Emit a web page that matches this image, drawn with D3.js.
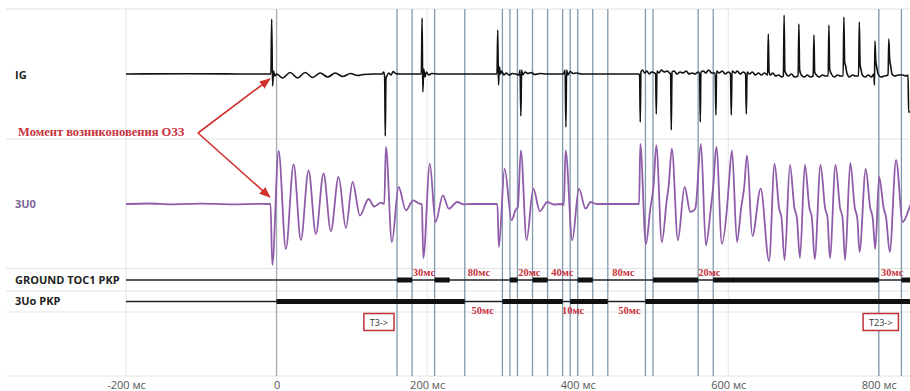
<!DOCTYPE html>
<html>
<head>
<meta charset="utf-8">
<script src="https://cdn.jsdelivr.net/npm/d3@7"></script>
<style>
  body { margin: 0; background: #fff; }
  .sep { stroke: #e2e2e2; stroke-width: 1; }
  .grid { stroke: #e6e6e6; stroke-width: 1; }
  .event { stroke: #8299ad; stroke-width: 1.3; }
  .zero { stroke: #a3acb5; stroke-width: 1.3; }
  .chan { font-family: "Open Sans", sans-serif; font-weight: bold; font-size: 11px; fill: #222; }
  .gap { font-family: "Liberation Serif", serif; font-weight: bold; font-size: 10.5px; fill: #c8323c; }
  .axis text { font-family: "Open Sans", sans-serif; font-size: 11px; fill: #555; }
</style>
</head>
<body>
<div id="chart"></div>
<script>
// time axis, ms
const timeTicks = [-200, 0, 200, 400, 600, 800];
const gridTimes = [-200, 200, 400, 600, 800];

// vertical cursor lines, ms
const eventTimes = [160, 180, 210, 250, 300, 310, 320, 340, 360, 380, 390, 400, 420, 440, 490, 500, 560, 580, 800, 830];

// discrete signals: intervals where the signal is set, ms
const groundPickup = [[160, 180], [210, 230], [310, 320], [340, 360], [400, 420], [500, 560], [580, 800], [830, 846]];
const u0Pickup = [[0, 250], [300, 380], [390, 440], [490, 846]];

// pause labels
const groundGapText = ["30мс", "80мс", "20мс", "40мс", "80мс", "20мс", "30мс"];
const groundGapAt = [181, 254, 321, 365, 446, 560, 803];
const u0GapText = ["50мс", "10мс", "50мс"];
const u0GapAt = [259, 379, 454];

// marker boxes
const markerText = ["T3->", "T23->"];
const markerAt = [160, 830];

// IG trace [ms, value]
const igTrace = [
  [-200, 0], [-120, 0.3], [-40, 0], [-7.5, 0],
  [-6.5, 55], [-5.3, -12], [-4, 3], [-2.5, -2], [0, 0],
  [8, -4], [18, 1.5], [28, -4], [38, 1.5], [48, -3.5], [58, 1], [68, -3], [78, 1], [88, -2.5], [98, 0.5], [108, -1.5], [115, -0.5], [130, 0],
  [140, 0], [142.5, 2], [143.6, -4], [144.4, -62], [145.3, -5], [146.5, -2], [149, 1], [152, -1], [155, 2.5], [158, 0.5], [163, 0], [190, 0],
  [192.3, 0], [193.3, 56], [194.3, -18], [195.5, 5], [197, -3], [199, 2], [202, -1], [206, 0.5], [215, 0], [290, 0],
  [292.8, 0], [293.8, 44], [294.8, -11], [296, 7], [297.5, 0], [299, 3], [302, -1], [305, 1], [309, -1], [313, 0.5], [318, 0],
  [322, -1], [323.5, 4], [324.5, -42], [325.5, 4], [327, -1], [330, 2], [334, 0.5], [338, 1.5], [343, -0.5], [350, 0.5], [360, 0],
  [381, 0], [383.3, 4], [384.3, -53], [385.3, 4], [387, -1], [390, 2.5], [394, 0.5], [398, 1], [405, 0], [480, 0],
  [481.5, 0], [482.3, -2], [483.1, -48], [484, 2], [486, 4], [489, 1], [492, 3], [495, 0], [498, 2], [502, 1],
  [503.5, 0], [504.4, -40], [505.3, 3], [508, 1], [511, 4], [515, 2], [519, 3], [522, 1],
  [523.4, 0], [524.3, -56], [525.3, 2], [528, 3], [532, 0], [536, 2], [540, 1], [544, 3], [548, 0], [552, 1], [556, 0], [560, 2],
  [562, 0], [562.8, -48], [563.7, 2], [567, 3], [570, 1], [574, 4], [578, 1],
  [582.6, 1], [583.6, -41], [584.5, 3], [588, 1], [592, 3], [596, 0], [600, 2],
  [603, 0], [604, -41], [605, 3], [609, 1], [612, 3], [616, 0], [620, 2],
  [623, 0], [624, -40], [625, 2], [628, 0], [632, 2], [636, -1], [640, 1], [644, -1], [648, 1], [652.2, -1],
  [653.2, 40], [654.2, 2], [656, -1], [659, 1], [663, -2], [667, -1], [671, -3], [673.2, -2],
  [674.2, 59], [675.2, 3], [677, 0], [680, -2], [684, 0], [688, -3], [692.8, -2],
  [693.8, 50], [694.8, 4], [697, -1], [701, -3], [705, -1], [709, -3], [712.8, -2],
  [713.8, 39], [714.8, 2], [717, -1], [721, -3], [725, -1], [729, -2], [732.7, -2],
  [733.7, 49], [734.7, 5], [737, 0], [741, -3], [745, -1], [749, -2], [752.6, -2],
  [753.6, 57], [754.6, 12], [756, 8], [757.5, 1], [761, -3], [765, -1], [769, -2], [773.1, -2],
  [774.1, 52], [775.1, 10], [776.5, 4], [778, -1], [782, -3], [786, -1], [790, -3], [793.5, 0],
  [794.2, -11], [794.9, 33], [795.9, 14], [797.5, 6], [799, 0], [803, -3], [807, -2], [812.3, -1],
  [813.3, 35], [814.3, 16], [815.8, 8], [817.5, 0], [821, -2], [826, -1], [832, -1], [836, -2], [838.8, -1],
  [839.6, -38], [846, -38]
];

// 3U0 trace [ms, value]
const u0Trace = [
  [-200, 0], [-170, 0.5], [-140, -0.3], [-100, 0.4], [-60, -0.3], [-20, 0.2], [-8, 0],
  [-5.7, -61], [2.7, 53], [12.4, -45], [22.6, 39.5], [32.3, -36], [42.5, 33.5], [52.2, -30], [62.4, 30.5],
  [72.1, -27], [82.4, 27], [92.1, -24], [101, 22], [110.7, -11.5], [122.2, 5], [129.8, -2.5], [138.6, 1.3], [143.1, 0],
  [145.2, 57], [153.2, -38], [162.1, 17], [171.8, -6.3], [181.6, 3.7], [189.6, 0.3], [193, 0],
  [194.9, -54], [203.6, 40.3], [211.2, -18], [220.9, 8.7], [228.9, -4.7], [240, 2], [248.4, -0.3], [260, 0], [293.3, 0],
  [295.3, -43], [302.9, 35.3], [312.2, -16.3], [317.5, -6], [320.5, -3], [324.5, 53.7], [332.1, -36.3], [341, 15.3],
  [349.8, -7.3], [359.6, 2], [368, -0.5], [379.5, 0], [381.6, -1], [383.9, 53.7], [392.8, -36.3], [401.6, 15.3],
  [410.5, -4.7], [417.1, 2], [425, 0], [481.6, 0],
  [483.1, 60], [490.6, -40], [496.4, -5], [500.8, 18.7], [504.4, 58.7], [511.8, -38], [518.5, 5.3], [520.7, 17],
  [525.1, 55.3], [533.1, -36.3], [542, 17], [549.6, -8], [556.2, -4.7], [563.7, 60], [570.3, -41.3], [576.6, -6],
  [579.9, 17], [584.2, 57], [591.6, -39.7], [598.3, -4], [600.5, 17], [604.9, 53.7], [611.6, -38], [617.1, -4],
  [621.2, 17], [624.9, 48.7], [632, -32], [643.1, 15.3], [654.2, -57],
  [661.5, 40], [667.5, -4], [670.8, -14], [674.8, -56],
  [681.9, 39], [687.9, -4], [691.2, -14], [695.2, -54],
  [701.8, 39], [707.8, -4], [711.1, -14], [714.8, -55],
  [722.6, 39], [728.6, -4], [731.9, -14], [735.0, -54],
  [742.5, 39], [748.5, -4], [751.8, -14], [755.2, -56],
  [762.1, 41], [768.1, -4], [771.4, -14], [774.4, -48],
  [782.6, 35], [788.6, -4], [791.9, -14], [795.3, -45],
  [800.4, 27], [806.4, -4], [809.7, -14], [814.5, -48],
  [822.9, 44], [831.8, -18], [842.1, -1], [846, 5]
];

const width = 910, height = 391;

const svg = d3.select("#chart").append("svg")
  .attr("width", width)
  .attr("height", height);

const x = d3.scaleLinear().domain([-200, 845]).range([126, 912.7]);
const yIG = d3.scaleLinear().domain([-65, 65]).range([139, 9]);
const yU0 = d3.scaleLinear().domain([-65, 65]).range([269, 139]);

// row separators
const rowLines = [9, 139, 268.5, 291, 312, 376];
svg.selectAll(".sep").data(rowLines).enter().append("line")
  .attr("class", "sep")
  .attr("x1", 6).attr("x2", width)
  .attr("y1", d => d).attr("y2", d => d);

// grid
svg.selectAll(".grid").data(gridTimes).enter().append("line")
  .attr("class", "grid")
  .attr("x1", d => x(d)).attr("x2", d => x(d))
  .attr("y1", 9).attr("y2", 376);

svg.append("line").attr("class", "zero")
  .attr("x1", x(0)).attr("x2", x(0)).attr("y1", 9).attr("y2", 376);

svg.selectAll(".event").data(eventTimes).enter().append("line")
  .attr("class", "event")
  .attr("x1", d => x(d)).attr("x2", d => x(d))
  .attr("y1", 9).attr("y2", 376);

// x axis
const xAxis = d3.axisBottom(x)
  .tickValues(timeTicks)
  .tickSize(0)
  .tickPadding(5)
  .tickFormat(d => d === 0 ? "0" : d + " мс");

svg.append("g")
  .attr("class", "axis")
  .attr("transform", "translate(0,376)")
  .call(xAxis)
  .call(g => g.select(".domain").remove());

// analog traces
const lineIG = d3.line().curve(d3.curveMonotoneX).x(d => x(d[0])).y(d => yIG(d[1]));
const lineU0 = d3.line().curve(d3.curveMonotoneX).x(d => x(d[0])).y(d => yU0(d[1]));

svg.append("path")
  .datum(u0Trace)
  .attr("fill", "none")
  .attr("stroke", "#8f5ca9")
  .attr("stroke-width", 1.8)
  .attr("stroke-linejoin", "round")
  .attr("d", lineU0);

svg.append("path")
  .datum(igTrace)
  .attr("fill", "none")
  .attr("stroke", "#111")
  .attr("stroke-width", 1.6)
  .attr("stroke-linejoin", "round")
  .attr("d", lineIG);

// discrete traces
function drawDigital(yPos, spans) {
  svg.append("line")
    .attr("x1", x(-200)).attr("x2", width)
    .attr("y1", yPos).attr("y2", yPos)
    .attr("stroke", "#222").attr("stroke-width", 1.5);
  svg.selectAll(null).data(spans).enter().append("line")
    .attr("x1", d => x(d[0])).attr("x2", d => x(d[1]))
    .attr("y1", yPos).attr("y2", yPos)
    .attr("stroke", "#111").attr("stroke-width", 5);
}
drawDigital(280, groundPickup);
drawDigital(301.5, u0Pickup);

svg.selectAll(null).data(groundGapText).enter().append("text")
  .attr("class", "gap")
  .attr("x", (d, i) => x(groundGapAt[i]))
  .attr("y", 276)
  .text(d => d);

svg.selectAll(null).data(u0GapText).enter().append("text")
  .attr("class", "gap")
  .attr("x", (d, i) => x(u0GapAt[i]))
  .attr("y", 313.5)
  .text(d => d);

// marker boxes
markerText.forEach((m, i) => {
  const g = svg.append("g");
  const t = g.append("text")
    .attr("font-family", "Open Sans, sans-serif")
    .attr("font-size", 9)
    .attr("fill", "#333")
    .attr("text-anchor", "middle")
    .attr("y", 325.5)
    .text(m);
  const w = t.node().getComputedTextLength() + 12;
  const right = x(markerAt[i]) - 3;
  t.attr("x", right - w / 2);
  g.insert("rect", "text")
    .attr("x", right - w).attr("y", 313.5)
    .attr("width", w).attr("height", 17)
    .attr("fill", "#fff")
    .attr("stroke", "#c0333b")
    .attr("stroke-width", 1.5);
});

// channel names
const chanNames = [["IG", 79, "#222"], ["3U0", 208, "#7b6796"], ["GROUND TOC1 PKP", 283.5, "#222"], ["3Uo PKP", 305, "#222"]];
svg.selectAll(".chan").data(chanNames).enter().append("text")
  .attr("class", "chan")
  .attr("x", 15)
  .attr("y", d => d[1])
  .style("fill", d => d[2])
  .text(d => d[0]);

// annotation
svg.append("defs").append("marker")
  .attr("id", "arr")
  .attr("viewBox", "0 0 10 10")
  .attr("refX", 9).attr("refY", 5)
  .attr("markerWidth", 7).attr("markerHeight", 7)
  .attr("orient", "auto")
  .append("path")
  .attr("d", "M0,1 L10,5 L0,9 Z")
  .attr("fill", "#d0312d");

svg.append("text")
  .attr("x", 18)
  .attr("y", 136)
  .attr("font-family", "Liberation Serif, serif")
  .attr("font-weight", "bold")
  .attr("font-size", 12.5)
  .attr("fill", "#c8323c")
  .text("Момент возниконовения ОЗЗ");

const arrowFrom = [198, 133];
[[x(-9), yIG(-5)], [x(-9), yU0(7)]].forEach(p => {
  svg.append("line")
    .attr("x1", arrowFrom[0]).attr("y1", arrowFrom[1])
    .attr("x2", p[0]).attr("y2", p[1])
    .attr("stroke", "#d0312d")
    .attr("stroke-width", 1.6)
    .attr("marker-end", "url(#arr)");
});
</script>
</body>
</html>
